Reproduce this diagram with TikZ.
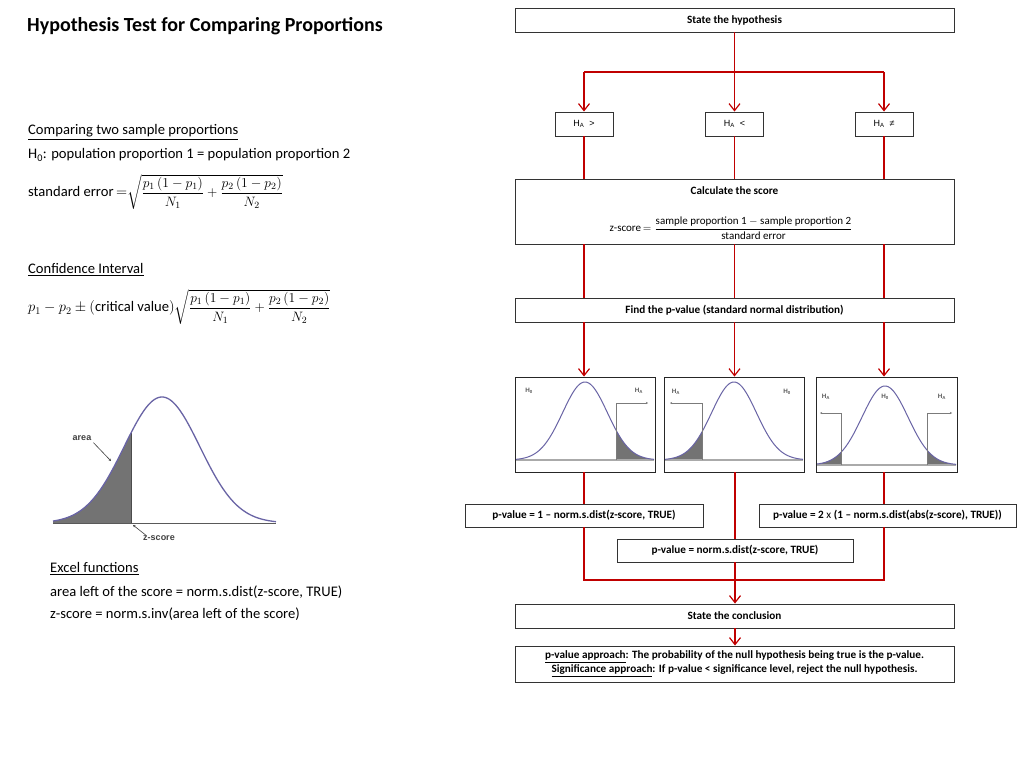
\RequirePackage{fix-cm}
\documentclass[tikz,border=0pt]{standalone}
\usepackage{amsmath}
\usepackage{fontspec}
\setmainfont{Carlito}
\newfontfamily\arialf{Liberation Sans}
\usetikzlibrary{arrows.meta}
\definecolor{flowred}{RGB}{192,0,0}
\definecolor{curveblue}{RGB}{105,100,165}
\definecolor{shadegray}{RGB}{115,115,115}
\definecolor{axisgray}{RGB}{170,170,170}
\definecolor{labgray}{RGB}{90,90,90}
\newcommand{\mathsmall}{\fontsize{13.6}{16}\selectfont}
\begin{document}
\begin{tikzpicture}[x=1pt,y=-1pt,
  box/.style={draw=black!80, line width=0.9pt, fill=white, inner sep=0pt, align=center,
              font=\bfseries\fontsize{11.2}{13.5}\selectfont},
  habox/.style={draw=black!80, line width=0.9pt, fill=white, inner sep=0pt,
              minimum width=58pt, minimum height=24pt, font=\arialf\fontsize{9}{11}\selectfont},
  gbox/.style={draw=black!85, line width=0.9pt, fill=white, inner sep=0pt},
  flow/.style={draw=flowred, line width=1.2pt},
  arr/.style={flow, -{Straight Barb[length=7pt,width=11pt,line width=1.2pt]}},
  lefttxt/.style={anchor=west, inner sep=0pt, font=\fontsize{14.6}{17}\selectfont},
  glab/.style={inner sep=0pt, text=labgray, font=\arialf\bfseries\fontsize{6.3}{7}\selectfont},
  bracket/.style={draw=labgray!80, line width=0.6pt, -{Stealth[length=2.2pt,width=2.2pt]}},
  curve/.style={draw=curveblue, line width=1pt},
  annot/.style={draw=black!75, line width=0.6pt, -{Stealth[length=2.5pt,width=2.5pt]}}
]
\useasboundingbox[fill=white] (0,0) rectangle (1024,768);

% ---------------- left column ----------------
\node[anchor=west, inner sep=0pt, font=\bfseries\fontsize{20}{24}\selectfont] (title) at (27,26)
  {Hypothesis Test for Comparing Proportions};

\node[lefttxt] (cmp) at (28,132) {\underline{Comparing two sample proportions}};
\node[lefttxt] (h0) at (28,155) {H\textsubscript{0}: population proportion 1 = population proportion 2};
\node[lefttxt] (se) at (28,192)
  {standard error\,$=${\mathsmall$\sqrt{\dfrac{p_1\left(1-p_1\right)}{N_1}+\dfrac{p_2\left(1-p_2\right)}{N_2}}$}};

\node[lefttxt] (ci) at (28,270) {\underline{Confidence Interval}};
\node[lefttxt] (cif) at (28,307)
  {$p_1-p_2\pm\left(\text{critical value}\right)${\mathsmall$\sqrt{\dfrac{p_1\left(1-p_1\right)}{N_1}+\dfrac{p_2\left(1-p_2\right)}{N_2}}$}};

% left bell curve
\fill[shadegray] (53,523) -- plot[domain=-109:-31,samples=50] ({162+\x},{523-126*exp(-0.5*(\x/37.8)^2)}) -- (131,523) -- cycle;
\draw[black!70, line width=0.8pt] (131,523) -- (131,{523-126*exp(-0.5*(31/37.8)^2)});
\draw[black!65, line width=1pt] (53,523) -- (276,523);
\draw[curve, line width=1.3pt] plot[domain=-109:114,samples=120] ({162+\x},{523-126*exp(-0.5*(\x/37.8)^2)});
\node[inner sep=0pt, text=black!75, font=\arialf\bfseries\fontsize{9}{10}\selectfont] (arealab) at (82,438) {area};
\coordinate (areatip) at (111,461);
\draw[annot] (arealab.south east) ++(2,2) -- (areatip);
\node[inner sep=0pt, text=black!75, font=\arialf\bfseries\fontsize{9}{10}\selectfont] (zlab) at (159,538) {z-score};
\coordinate (ztip) at (133,525);
\draw[annot] (zlab.north west) ++(3,0) -- (ztip);

\node[lefttxt] (excel) at (50,569) {\underline{Excel functions}};
\node[lefttxt] (ex1) at (50,592) {area left of the score = norm.s.dist(z-score, TRUE)};
\node[lefttxt] (ex2) at (50,614) {z-score = norm.s.inv(area left of the score)};

% ---------------- flowchart ----------------
\node[box, minimum width=439pt, minimum height=24pt] (hyp) at (734.5,20) {State the hypothesis};

\node[habox] (ha1) at (584,124) {H\textsubscript{A}\ \ >};
\node[habox] (ha2) at (734.5,124) {H\textsubscript{A}\ \ <};
\node[habox] (ha3) at (884,124) {H\textsubscript{A}\ \ ≠};

\coordinate (b1) at (584,72);
\coordinate (b2) at (734.5,72);
\coordinate (b3) at (884,72);
\draw[flow] (hyp.south) -- (b2);
\draw[flow] (b1) -- (b3);
\draw[arr] (b1) -- (ha1.north);
\draw[arr] (b2) -- (ha2.north);
\draw[arr] (b3) -- (ha3.north);

\node[box, minimum width=439pt, minimum height=65pt] (calc) at (734.5,211.5) {};
\node[inner sep=0pt, font=\bfseries\fontsize{11.2}{13}\selectfont] (calct) at (734.5,191) {Calculate the score};
\node[inner sep=0pt, font=\fontsize{11}{13}\selectfont] (calcf) at (731,228)
  {z-score\,$=\dfrac{\text{sample proportion 1}-\text{sample proportion 2}}{\text{standard error}}$};

\draw[flow] (ha1.south) -- (ha1.south |- calc.north);
\draw[flow] (ha2.south) -- (ha2.south |- calc.north);
\draw[flow] (ha3.south) -- (ha3.south |- calc.north);

\node[box, minimum width=439pt, minimum height=24pt] (find) at (734.5,310)
  {Find the p-value (standard normal distribution)};

\draw[flow] (calc.south -| ha1) -- (find.north -| ha1);
\draw[flow] (calc.south -| ha2) -- (find.north -| ha2);
\draw[flow] (calc.south -| ha3) -- (find.north -| ha3);

% graph boxes
\node[gbox, minimum width=140pt, minimum height=95pt] (g1) at (585,424.5) {};
\node[gbox, minimum width=140pt, minimum height=95pt] (g2) at (734,424.5) {};
\node[gbox, minimum width=141pt, minimum height=95pt] (g3) at (886.5,424.5) {};

\draw[arr] (find.south -| ha1) -- (g1.north -| ha1);
\draw[arr] (find.south -| ha2) -- (g2.north -| ha2);
\draw[arr] (find.south -| ha3) -- (g3.north -| ha3);

% graph 1 (right tail)
\fill[shadegray] (616,460) -- plot[domain=31:69,samples=30] ({585+\x},{460-78*exp(-0.5*(\x/22.4)^2)}) -- (654,460) -- cycle;
\draw[axisgray, line width=1.1pt] (516,460) -- (654,460);
\draw[curve] plot[domain=-69:69,samples=100] ({585+\x},{460-78*exp(-0.5*(\x/22.4)^2)});
\draw[bracket] (616,460) -- (616,403) -- (648,403);
\node[glab] (g1h0) at (529,391) {H\textsubscript{0}};
\node[glab] (g1ha) at (639,391) {H\textsubscript{A}};

% graph 2 (left tail)
\fill[shadegray] (665,460) -- plot[domain=-69:-32,samples=30] ({734+\x},{460-78*exp(-0.5*(\x/22.4)^2)}) -- (702,460) -- cycle;
\draw[axisgray, line width=1.1pt] (665,460) -- (803,460);
\draw[curve] plot[domain=-69:69,samples=100] ({734+\x},{460-78*exp(-0.5*(\x/22.4)^2)});
\draw[bracket] (702,460) -- (702,403) -- (670,403);
\node[glab] (g2ha) at (676,392) {H\textsubscript{A}};
\node[glab] (g2h0) at (787,392) {H\textsubscript{0}};

% graph 3 (two tails)
\fill[shadegray] (817,465) -- plot[domain=-68:-44,samples=30] ({885+\x},{465-79*exp(-0.5*(\x/23)^2)}) -- (841,465) -- cycle;
\fill[shadegray] (927,465) -- plot[domain=42:71,samples=30] ({885+\x},{465-79*exp(-0.5*(\x/23)^2)}) -- (956,465) -- cycle;
\draw[axisgray, line width=1.1pt] (817,465) -- (956,465);
\draw[curve] plot[domain=-68:71,samples=100] ({885+\x},{465-79*exp(-0.5*(\x/23)^2)});
\draw[bracket] (841,465) -- (841,413) -- (820,413);
\draw[bracket] (927,465) -- (927,413) -- (952,413);
\node[glab] (g3ha1) at (826,397) {H\textsubscript{A}};
\node[glab] (g3h0) at (885,397) {H\textsubscript{0}};
\node[glab] (g3ha2) at (942,397) {H\textsubscript{A}};

% p-value boxes
\node[box, minimum width=238pt, minimum height=23pt] (pv1) at (584,515.5)
  {p-value = 1 – norm.s.dist(z-score, TRUE)};
\node[box, minimum width=257pt, minimum height=23pt] (pv3) at (887.5,515.5)
  {p-value = 2 {\mdseries x} (1 – norm.s.dist(abs(z-score), TRUE))};
\node[box, minimum width=236pt, minimum height=23pt] (pv2) at (735,550.5)
  {p-value = norm.s.dist(z-score, TRUE)};

\draw[flow] (g1.south -| ha1) -- (pv1.north -| ha1);
\draw[flow] (g2.south -| pv2) -- (pv2.north);
\draw[flow] (g3.south -| ha3) -- (pv3.north -| ha3);

\coordinate (j1) at (584,580);
\coordinate (j3) at (884,580);
\draw[flow] (pv1.south -| j1) -- (j1) -- (j3) -- (pv3.south -| j3);

\node[box, minimum width=439pt, minimum height=24pt] (concl) at (734.5,616) {State the conclusion};
\draw[arr] (pv2.south) -- (pv2.south |- concl.north);

\node[box, minimum width=439pt, minimum height=36pt, font=\bfseries\fontsize{11.2}{14}\selectfont] (last) at (734.5,664)
  {\underline{p-value approach}: The probability of the null hypothesis being true is the p-value.\\
   \underline{Significance approach}: If p-value < significance level, reject the null hypothesis.};
\draw[arr] (concl.south -| pv2) -- (last.north -| pv2);

\end{tikzpicture}
\end{document}
